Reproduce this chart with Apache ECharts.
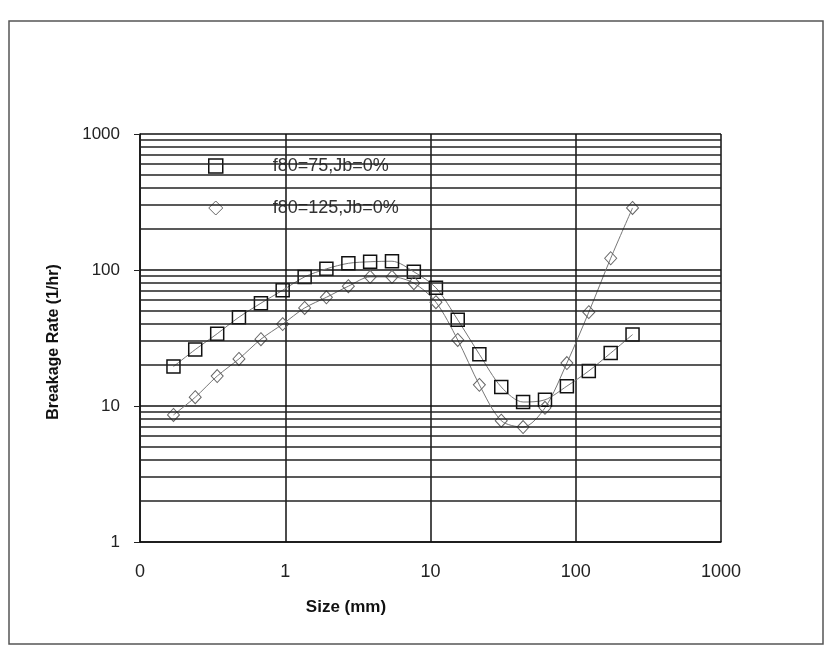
<!DOCTYPE html>
<html>
<head>
<meta charset="utf-8">
<script src="https://cdn.jsdelivr.net/npm/echarts@6/dist/echarts.min.js"></script>
<style>
  html, body { margin: 0; padding: 0; background: #fff; }
  #chart { width: 830px; height: 656px; }
</style>
</head>
<body>
<div id="chart"></div>
<script>
// particle size (mm), sqrt(2) series
const sizes = [0.17, 0.24, 0.34, 0.48, 0.68, 0.96, 1.36, 1.92, 2.72, 3.84, 5.43,
  7.68, 10.9, 15.4, 21.7, 30.7, 43.4, 61.4, 86.9, 123, 174, 246]
// breakage rate (1/hr)
const rate75 = [19.5, 26, 34, 45, 57, 71, 89, 102, 112, 115, 116,
  97, 74, 43, 24, 13.8, 10.7, 11.1, 14, 18.1, 24.5, 33.5]
const rate125 = [8.6, 11.6, 16.6, 22.2, 31, 40, 52.6, 63, 76, 89, 89,
  80, 58, 30.6, 14.3, 7.8, 7.0, 9.7, 20.7, 49, 122, 286]
const seriesNames = ['f80=75,Jb=0%', 'f80=125,Jb=0%']
const xTicks = [0.1, 1, 10, 100, 1000]
const yTicks = [1, 10, 100, 1000]

// horizontal lines at 2..9 of each decade
const minorY = []
for (let d = 1; d < 1000; d *= 10) {
  for (let m = 2; m <= 9; m++) minorY.push(m * d)
}

const font = 'Liberation Sans, Arial, sans-serif'
const chart = echarts.init(document.getElementById('chart'))

const option = {
  backgroundColor: '#fff',
  animation: false,
  grid: { left: 140, right: 109, top: 134, bottom: 114 },
  graphic: [
    {
      type: 'rect',
      shape: { x: 9, y: 21, width: 814, height: 623 },
      style: { fill: 'none', stroke: '#555', lineWidth: 1.5 },
      z: -1
    },
    {
      type: 'text',
      x: 54, y: 342,
      rotation: Math.PI / 2,
      style: {
        text: 'Breakage Rate (1/hr)', font: 'bold 16px ' + font,
        fill: '#111', align: 'center', verticalAlign: 'middle'
      }
    },
    {
      type: 'text',
      x: 346, y: 607,
      style: {
        text: 'Size (mm)', font: 'bold 17px ' + font,
        fill: '#111', align: 'center', verticalAlign: 'middle'
      }
    }
  ],
  legend: {
    orient: 'vertical',
    left: 203,
    top: 152,
    itemWidth: 14,
    itemHeight: 14,
    itemGap: 24,
    textStyle: { fontFamily: font, fontSize: 18, color: '#333', padding: [0, 0, 0, 45] },
    data: [
      { name: seriesNames[0], icon: 'rect', itemStyle: { color: '#fff', borderColor: '#111', borderWidth: 1.5 } },
      { name: seriesNames[1], icon: 'diamond', itemStyle: { color: '#fff', borderColor: '#666', borderWidth: 1 } }
    ]
  },
  xAxis: {
    type: 'log',
    logBase: 10,
    min: xTicks[0],
    max: xTicks[xTicks.length - 1],
    axisLine: { show: true, lineStyle: { color: '#111', width: 1.5 } },
    axisTick: { show: false },
    axisLabel: {
      margin: 21, fontFamily: font, fontSize: 18, color: '#222',
      formatter: v => (v < 1 ? '0' : String(Math.round(v)))
    },
    splitLine: { show: true, lineStyle: { color: '#111', width: 1.5 } }
  },
  yAxis: {
    type: 'log',
    logBase: 10,
    min: yTicks[0],
    max: yTicks[yTicks.length - 1],
    axisLine: { show: true, lineStyle: { color: '#111', width: 1.5 } },
    axisTick: { show: true, inside: false, length: 6, lineStyle: { color: '#222' } },
    axisLabel: {
      margin: 20, fontFamily: font, fontSize: 17, color: '#222',
      formatter: v => String(Math.round(v))
    },
    splitLine: { show: true, lineStyle: { color: '#111', width: 1.5 } }
  },
  series: [
    {
      name: 'grid',
      type: 'line',
      data: [],
      z: 1,
      silent: true,
      markLine: {
        silent: true,
        symbol: 'none',
        label: { show: false },
        lineStyle: { color: '#222', width: 1.5, type: 'solid' },
        data: minorY.map(v => ({ yAxis: v }))
      }
    },
    {
      name: seriesNames[0],
      type: 'line',
      z: 3,
      smooth: 0.3,
      data: sizes.map((s, i) => [s, rate75[i]]),
      symbol: 'rect',
      symbolSize: 13,
      lineStyle: { color: '#777', width: 1 },
      itemStyle: { color: 'rgba(255,255,255,0)', borderColor: '#111', borderWidth: 1.5 }
    },
    {
      name: seriesNames[1],
      type: 'line',
      z: 3,
      smooth: 0.3,
      data: sizes.map((s, i) => [s, rate125[i]]),
      symbol: 'diamond',
      symbolSize: [12, 13],
      lineStyle: { color: '#777', width: 1 },
      itemStyle: { color: 'rgba(255,255,255,0)', borderColor: '#666', borderWidth: 1 }
    }
  ]
}

chart.setOption(option)
</script>
</body>
</html>
